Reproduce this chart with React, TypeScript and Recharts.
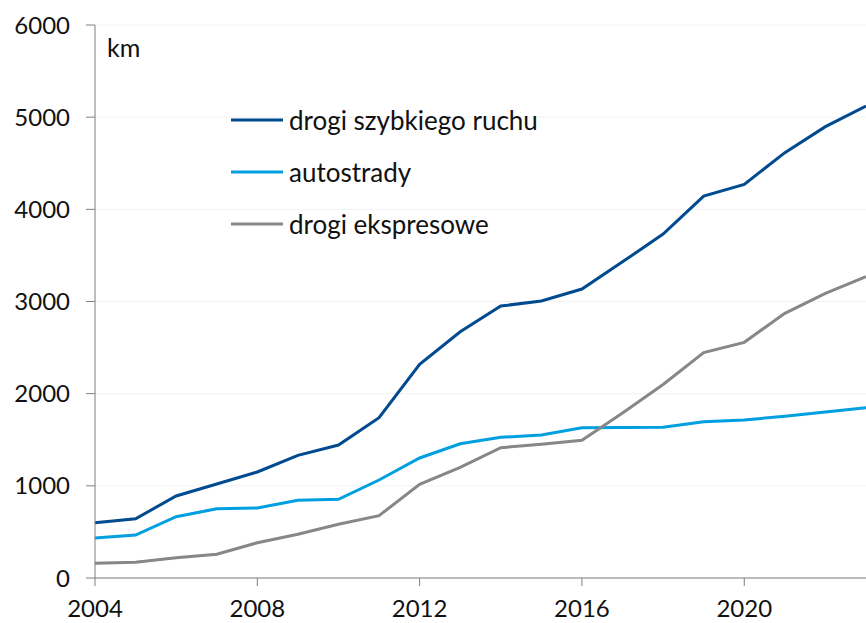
import { LineChart, Line, CartesianGrid, XAxis, YAxis, Legend } from 'recharts';

const years = [2004, 2005, 2006, 2007, 2008, 2009, 2010, 2011, 2012, 2013, 2014, 2015, 2016, 2017, 2018, 2019, 2020, 2021, 2022, 2023];
const drogiSzybkie = [600, 643, 890, 1020, 1150, 1331, 1443, 1739, 2318, 2672, 2951, 3005, 3135, 3430, 3732, 4144, 4271, 4615, 4897, 5120];
const autostrady = [434, 466, 665, 752, 760, 843, 854, 1063, 1302, 1457, 1526, 1551, 1631, 1634, 1635, 1696, 1714, 1756, 1802, 1848];
const ekspresowe = [159, 170, 220, 257, 383, 474, 583, 676, 1016, 1201, 1414, 1450, 1494, 1790, 2100, 2445, 2557, 2872, 3089, 3269];

const xTicks = [2004, 2008, 2012, 2016, 2020];
const yTicks = [0, 1000, 2000, 3000, 4000, 5000, 6000];

const data = years.map((year, i) => ({
    year,
    szybkie: drogiSzybkie[i],
    autostrady: autostrady[i],
    ekspresowe: ekspresowe[i],
}));

const series = [
    { key: 'szybkie', name: 'drogi szybkiego ruchu', color: '#004a8f' },
    { key: 'autostrady', name: 'autostrady', color: '#009fe0' },
    { key: 'ekspresowe', name: 'drogi ekspresowe', color: '#878787' },
];

const FONT = 'Lato, "Noto Sans", sans-serif';

const LegendBox = () => (
    <div style={{ fontFamily: FONT, fontSize: 26, color: '#111' }}>
        {series.map((s) => (
            <div key={s.key} style={{ display: 'flex', alignItems: 'center', height: 52 }}>
                <svg width={58} height={6}>
                    <line x1={0} y1={3} x2={52} y2={3} stroke={s.color} strokeWidth={3} />
                </svg>
                <span>{s.name}</span>
            </div>
        ))}
    </div>
);

const App = () => (
    <div style={{ position: 'absolute', left: 0, top: 0, background: '#fff' }}>
        <LineChart width={866} height={623} data={data} margin={{ top: 25, right: 0, bottom: 5, left: 0 }}>
            <CartesianGrid vertical={false} stroke="#f2f2f2" />
            <XAxis
                dataKey="year"
                type="number"
                domain={[2004, 2023]}
                ticks={xTicks}
                height={40}
                tickSize={8}
                tickMargin={14}
                stroke="#7f7f7f"
                tick={{ fill: '#111', fontSize: 24, fontFamily: FONT }}
            />
            <YAxis
                domain={[0, 6000]}
                ticks={yTicks}
                width={95}
                tickSize={9}
                tickMargin={16}
                stroke="#7f7f7f"
                tick={{ fill: '#111', fontSize: 24, fontFamily: FONT }}
            />
            <Legend
                layout="vertical"
                verticalAlign="middle"
                align="center"
                content={<LegendBox />}
                wrapperStyle={{ left: 231, top: 94, width: 400 }}
            />
            {series.map((s) => (
                <Line
                    key={s.key}
                    type="linear"
                    dataKey={s.key}
                    name={s.name}
                    stroke={s.color}
                    strokeWidth={3}
                    dot={false}
                    isAnimationActive={false}
                />
            ))}
            <text x={107} y={57} fontSize={25} fontFamily={FONT} fill="#111">km</text>
        </LineChart>
    </div>
);

export default App;
